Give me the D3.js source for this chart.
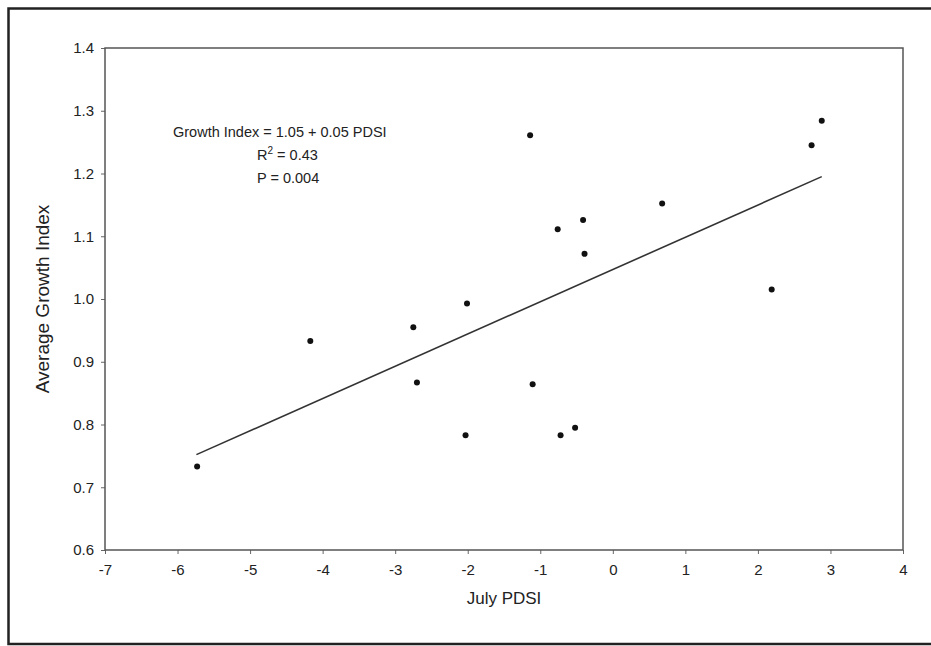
<!DOCTYPE html>
<html><head><meta charset="utf-8">
<script src="https://cdn.jsdelivr.net/npm/d3@7"></script>
<style>body{margin:0;background:#fff}svg{display:block}text{font-family:Arial,"Liberation Sans",sans-serif;fill:#222}</style>
</head><body>
<script>
const pdsi = [-5.73, -4.17, -2.75, -2.70, -2.03, -2.01, -1.14, -1.105, -0.76, -0.72, -0.52, -0.41, -0.39, 0.68, 2.19, 2.74, 2.88];
const growth = [0.733, 0.933, 0.955, 0.867, 0.783, 0.993, 1.261, 0.864, 1.111, 0.783, 0.795, 1.126, 1.072, 1.152, 1.015, 1.245, 1.284];
const fitX = [-5.74, 2.88];
const fitY = [0.752, 1.195];
const xTicks = [-7, -6, -5, -4, -3, -2, -1, 0, 1, 2, 3, 4];
const xTickLabels = ["-7", "-6", "-5", "-4", "-3", "-2", "-1", "0", "1", "2", "3", "4"];
const yTicks = [0.6, 0.7, 0.8, 0.9, 1.0, 1.1, 1.2, 1.3, 1.4];
const yTickLabels = ["0.6", "0.7", "0.8", "0.9", "1.0", "1.1", "1.2", "1.3", "1.4"];
const annotation = ["Growth Index = 1.05 + 0.05 PDSI", "R", "2", " = 0.43", "P = 0.004"];

const W = 931, H = 646;
const svg = d3.select("body").append("svg").attr("width", W).attr("height", H);

// outer frame (top, left, bottom)
svg.append("path").attr("d", `M931,8.5 H8.5 V644 H931`).attr("fill", "none")
  .attr("stroke", "#222").attr("stroke-width", 2.5);

const x = d3.scaleLinear().domain([-7, 4]).range([105, 903]);
const y = d3.scaleLinear().domain([0.6, 1.4]).range([550, 48]);

const xAxis = svg.append("g").attr("transform", "translate(0,550)")
  .call(d3.axisBottom(x).tickValues(xTicks).tickFormat((d, i) => xTickLabels[i]).tickSize(4).tickPadding(10));
const yAxis = svg.append("g").attr("transform", "translate(105,0)")
  .call(d3.axisLeft(y).tickValues(yTicks).tickFormat((d, i) => yTickLabels[i]).tickSize(4).tickPadding(7));
[xAxis, yAxis].forEach(g => {
  g.select(".domain").remove();
  g.selectAll(".tick line").attr("stroke", "#666").attr("stroke-width", 1);
  g.selectAll(".tick text").style("font-size", "15px").attr("fill", "#222");
});
xAxis.selectAll(".tick text").attr("dy", "0.71em");

// plot frame
svg.append("rect").attr("x", x(-7)).attr("y", y(1.4))
  .attr("width", x(4) - x(-7)).attr("height", y(0.6) - y(1.4))
  .attr("fill", "none").attr("stroke", "#555").attr("stroke-width", 1.5);

// regression line
const line = d3.line().x(d => x(d[0])).y(d => y(d[1]));
svg.append("path").datum(fitX.map((v, i) => [v, fitY[i]])).attr("d", line)
  .attr("fill", "none").attr("stroke", "#333").attr("stroke-width", 1.6);

// points
svg.append("g").selectAll("circle").data(pdsi.map((v, i) => [v, growth[i]])).join("circle")
  .attr("cx", d => x(d[0])).attr("cy", d => y(d[1])).attr("r", 3).attr("fill", "#111");

// annotation
svg.append("text").attr("x", 173).attr("y", 137).style("font-size", "14.5px").text(annotation[0]);
const r2 = svg.append("text").attr("x", 257).attr("y", 160).style("font-size", "14.5px");
r2.append("tspan").text(annotation[1]);
r2.append("tspan").attr("dy", -6).style("font-size", "10px").text(annotation[2]);
r2.append("tspan").attr("dy", 6).text(annotation[3]);
svg.append("text").attr("x", 257).attr("y", 183).style("font-size", "14.5px").text(annotation[4]);

// axis titles
svg.append("text").attr("x", (x(-7) + x(4)) / 2).attr("y", 604).attr("text-anchor", "middle")
  .style("font-size", "17px").text("July PDSI");
svg.append("text").attr("transform", `translate(49,${(y(0.6) + y(1.4)) / 2}) rotate(-90)`)
  .attr("text-anchor", "middle").style("font-size", "19px").text("Average Growth Index");
</script>
</body></html>
